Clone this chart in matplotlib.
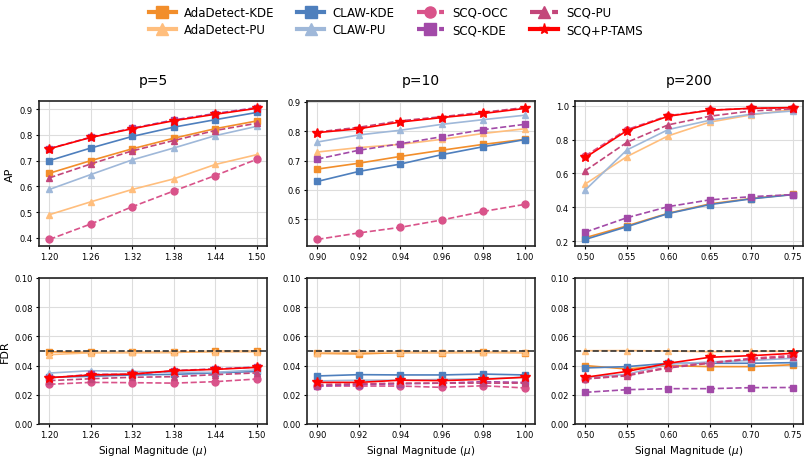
import matplotlib
matplotlib.use("Agg")
import matplotlib.pyplot as plt
from matplotlib.lines import Line2D

# x grids for the three dimensions
x_p5 = [1.20, 1.26, 1.32, 1.38, 1.44, 1.50]
x_p10 = [0.90, 0.92, 0.94, 0.96, 0.98, 1.00]
x_p200 = [0.50, 0.55, 0.60, 0.65, 0.70, 0.75]

methods = ["AdaDetect-KDE", "AdaDetect-PU", "CLAW-KDE", "CLAW-PU",
           "SCQ-OCC", "SCQ-KDE", "SCQ-PU", "SCQ+P-TAMS"]

# AP values
ap_p5 = {
    "AdaDetect-KDE": [0.651, 0.700, 0.746, 0.787, 0.824, 0.854],
    "AdaDetect-PU": [0.490, 0.540, 0.588, 0.629, 0.685, 0.723],
    "CLAW-KDE": [0.700, 0.749, 0.794, 0.830, 0.859, 0.887],
    "CLAW-PU": [0.588, 0.646, 0.703, 0.749, 0.797, 0.833],
    "SCQ-OCC": [0.394, 0.454, 0.521, 0.582, 0.642, 0.705],
    "SCQ-KDE": [0.747, 0.791, 0.826, 0.858, 0.883, 0.906],
    "SCQ-PU": [0.633, 0.687, 0.738, 0.778, 0.817, 0.845],
    "SCQ+P-TAMS": [0.746, 0.790, 0.824, 0.855, 0.880, 0.903],
}
ap_p10 = {
    "AdaDetect-KDE": [0.671, 0.691, 0.714, 0.735, 0.755, 0.772],
    "AdaDetect-PU": [0.729, 0.744, 0.755, 0.772, 0.792, 0.808],
    "CLAW-KDE": [0.629, 0.663, 0.688, 0.720, 0.747, 0.771],
    "CLAW-PU": [0.763, 0.787, 0.803, 0.823, 0.839, 0.854],
    "SCQ-OCC": [0.432, 0.454, 0.473, 0.498, 0.527, 0.551],
    "SCQ-KDE": [0.705, 0.735, 0.757, 0.781, 0.805, 0.823],
    "SCQ-PU": [0.797, 0.813, 0.835, 0.849, 0.864, 0.880],
    "SCQ+P-TAMS": [0.795, 0.808, 0.831, 0.846, 0.860, 0.877],
}
ap_p200 = {
    "AdaDetect-KDE": [0.220, 0.290, 0.365, 0.420, 0.452, 0.476],
    "AdaDetect-PU": [0.538, 0.700, 0.823, 0.904, 0.947, 0.978],
    "CLAW-KDE": [0.210, 0.285, 0.363, 0.416, 0.450, 0.475],
    "CLAW-PU": [0.503, 0.739, 0.860, 0.915, 0.951, 0.970],
    "SCQ-OCC": [0.705, 0.860, 0.942, 0.975, 0.985, 0.988],
    "SCQ-KDE": [0.253, 0.338, 0.404, 0.444, 0.463, 0.475],
    "SCQ-PU": [0.617, 0.784, 0.888, 0.939, 0.970, 0.982],
    "SCQ+P-TAMS": [0.695, 0.853, 0.939, 0.974, 0.986, 0.990],
}

# FDR values
fdr_p5 = {
    "AdaDetect-KDE": [0.0495, 0.0490, 0.0490, 0.0490, 0.0498, 0.0498],
    "AdaDetect-PU": [0.0475, 0.0488, 0.0490, 0.0492, 0.0495, 0.0495],
    "CLAW-KDE": [0.0320, 0.0327, 0.0336, 0.0340, 0.0350, 0.0360],
    "CLAW-PU": [0.0349, 0.0365, 0.0360, 0.0354, 0.0354, 0.0370],
    "SCQ-OCC": [0.0272, 0.0285, 0.0283, 0.0280, 0.0290, 0.0308],
    "SCQ-KDE": [0.0315, 0.0340, 0.0340, 0.0365, 0.0378, 0.0390],
    "SCQ-PU": [0.0297, 0.0310, 0.0320, 0.0324, 0.0338, 0.0350],
    "SCQ+P-TAMS": [0.0317, 0.0336, 0.0342, 0.0365, 0.0374, 0.0388],
}
fdr_p10 = {
    "AdaDetect-KDE": [0.0484, 0.0480, 0.0489, 0.0489, 0.0490, 0.0489],
    "AdaDetect-PU": [0.0488, 0.0490, 0.0492, 0.0490, 0.0492, 0.0490],
    "CLAW-KDE": [0.0329, 0.0338, 0.0336, 0.0336, 0.0342, 0.0336],
    "CLAW-PU": [0.0295, 0.0300, 0.0300, 0.0305, 0.0310, 0.0320],
    "SCQ-OCC": [0.0260, 0.0260, 0.0260, 0.0251, 0.0262, 0.0247],
    "SCQ-KDE": [0.0260, 0.0270, 0.0275, 0.0280, 0.0290, 0.0285],
    "SCQ-PU": [0.0270, 0.0275, 0.0280, 0.0280, 0.0280, 0.0280],
    "SCQ+P-TAMS": [0.0285, 0.0285, 0.0300, 0.0297, 0.0306, 0.0320],
}
fdr_p200 = {
    "AdaDetect-KDE": [0.0400, 0.0377, 0.0400, 0.0393, 0.0393, 0.0406],
    "AdaDetect-PU": [0.0502, 0.0503, 0.0500, 0.0495, 0.0498, 0.0498],
    "CLAW-KDE": [0.0384, 0.0393, 0.0416, 0.0416, 0.0416, 0.0420],
    "CLAW-PU": [0.0320, 0.0340, 0.0410, 0.0425, 0.0435, 0.0450],
    "SCQ-OCC": [0.0310, 0.0335, 0.0390, 0.0420, 0.0450, 0.0470],
    "SCQ-KDE": [0.0217, 0.0235, 0.0242, 0.0242, 0.0249, 0.0250],
    "SCQ-PU": [0.0308, 0.0330, 0.0384, 0.0416, 0.0445, 0.0460],
    "SCQ+P-TAMS": [0.0320, 0.0360, 0.0416, 0.0457, 0.0468, 0.0484],
}

xs = [x_p5, x_p10, x_p200]
titles = ["p=5", "p=10", "p=200"]
ap_all = [ap_p5, ap_p10, ap_p200]
fdr_all = [fdr_p5, fdr_p10, fdr_p200]
alpha = 0.05

styles = {
    "AdaDetect-KDE": dict(color="#f28e2b", marker="s", ls="-"),
    "AdaDetect-PU": dict(color="#ffbe7d", marker="^", ls="-"),
    "CLAW-KDE": dict(color="#4e7fbd", marker="s", ls="-"),
    "CLAW-PU": dict(color="#9fb8d9", marker="^", ls="-"),
    "SCQ-OCC": dict(color="#d9538a", marker="o", ls="--"),
    "SCQ-KDE": dict(color="#a24aa8", marker="s", ls="--"),
    "SCQ-PU": dict(color="#c3467a", marker="^", ls="--"),
    "SCQ+P-TAMS": dict(color="#ff0000", marker="*", ls="-"),
}

W, H = 809, 460
fig = plt.figure(figsize=(W / 100, H / 100), dpi=100)

lefts = [39, 307, 575]
aw = 228


def box(x0, ytop, w, h):
    return [x0 / W, 1 - (ytop + h) / H, w / W, h / H]


for j in range(3):
    ax1 = fig.add_axes(box(lefts[j], 102, aw, 145))
    ax2 = fig.add_axes(box(lefts[j], 279, aw, 146))
    for m in methods:
        st = styles[m]
        ms = 7 if st["marker"] == "*" else 5
        for ax, d in ((ax1, ap_all[j]), (ax2, fdr_all[j])):
            ax.plot(xs[j], d[m], color=st["color"], marker=st["marker"],
                    linestyle=st["ls"], lw=1.2, markersize=ms, zorder=3)
    ax2.axhline(alpha, color="#333333", ls="--", lw=1.2, zorder=4)
    ax2.set_ylim(0, 0.1)
    ax2.set_yticks([0, 0.02, 0.04, 0.06, 0.08, 0.10])
    ax2.set_yticklabels(["%.2f" % v for v in ax2.get_yticks()])
    ax1.set_title(titles[j], fontsize=10, pad=12)
    ax2.set_xlabel(r"Signal Magnitude ($\mu$)", fontsize=7.5, labelpad=3)
    for ax in (ax1, ax2):
        ax.set_xticks(xs[j])
        ax.set_xticklabels(["%.2f" % v for v in xs[j]])
        ax.tick_params(labelsize=6, length=2.5, width=0.8, pad=2)
        ax.grid(True, color="#dddddd", lw=0.8, zorder=0)
        ax.set_axisbelow(True)
        for s in ax.spines.values():
            s.set_color("#222222")
            s.set_linewidth(1.2)
    if j == 0:
        ax1.set_ylabel("AP", fontsize=8, labelpad=3)
        ax2.set_ylabel("FDR", fontsize=8, labelpad=3)

handles = []
for m in methods:
    st = styles[m]
    handles.append(Line2D([], [], color=st["color"], marker=st["marker"],
                          linestyle=st["ls"], lw=3, markersize=8))
fig.legend(handles, methods, loc="upper center", bbox_to_anchor=(0.489, 1.008),
           ncol=4, frameon=False, fontsize=8.5, handlelength=2.3,
           handletextpad=0.7, columnspacing=1.9, labelspacing=0.35)

fig.savefig("out.png", dpi=100)
